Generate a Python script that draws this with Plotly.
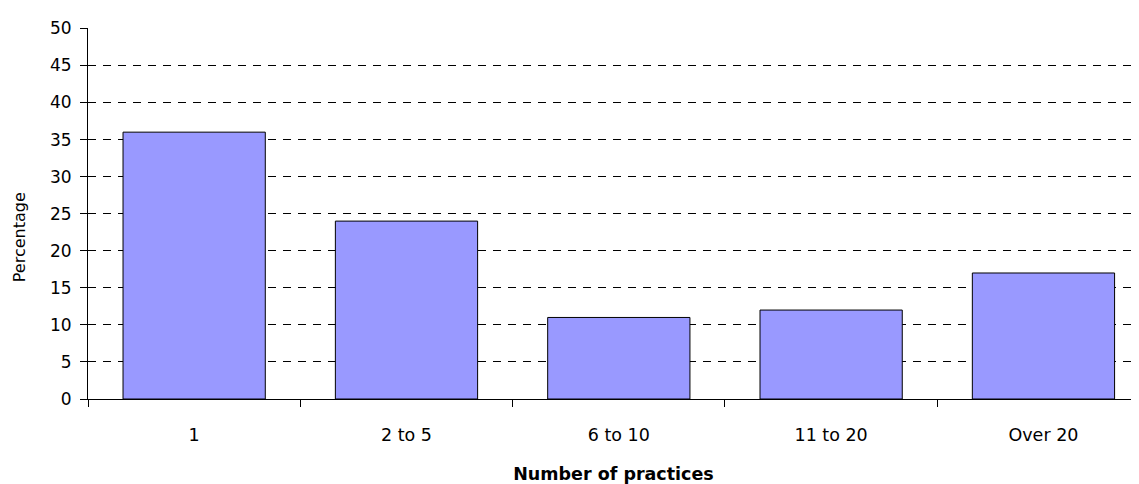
import plotly.graph_objects as go

categories = ["1", "2 to 5", "6 to 10", "11 to 20", "Over 20"]
values = [36, 24, 11, 12, 17]
y_ticks = [0, 5, 10, 15, 20, 25, 30, 35, 40, 45, 50]

FONT = "DejaVu Sans"

fig = go.Figure()
fig.add_trace(go.Bar(
    x=categories, y=values,
    marker=dict(color="#9999FF", line=dict(color="#000000", width=1)),
    width=0.67,
))

# page has an 8px body margin, so the figure is sized to fit the 1139x484 window
fig.update_layout(
    width=1131, height=476,
    margin=dict(l=80, r=0, t=20, b=85, pad=0),
    paper_bgcolor="white", plot_bgcolor="white",
    font=dict(family=FONT, size=17, color="#000000"),
    showlegend=False,
)
fig.update_xaxes(
    range=[-0.5, 4.45],
    automargin=False,
    showline=True, linecolor="#000000", linewidth=1,
    ticks="outside", ticklen=7, tickcolor="#000000", tickson="boundaries",
    showgrid=False,
    tickfont=dict(family=FONT, size=17.5),
    ticklabelstandoff=20,
    title=dict(text="<b>Number of practices</b>", font=dict(family=FONT, size=17.5), standoff=27),
)
fig.update_yaxes(
    range=[0, 50.05],
    automargin=False,
    tickvals=y_ticks,
    showline=True, linecolor="#000000", linewidth=1,
    ticks="outside", ticklen=7, tickcolor="#000000",
    showgrid=True, gridcolor="#000000", gridwidth=1, griddash="8px,7px",
    zeroline=False,
    tickfont=dict(family=FONT, size=17),
    ticklabelstandoff=5,
)
fig.add_annotation(
    text="Percentage", textangle=-90,
    xref="paper", yref="paper", x=0, y=0.436,
    xanchor="center", yanchor="middle", xshift=-69, showarrow=False,
    font=dict(family=FONT, size=16, color="#000000"),
)

fig.write_html("out.html")
